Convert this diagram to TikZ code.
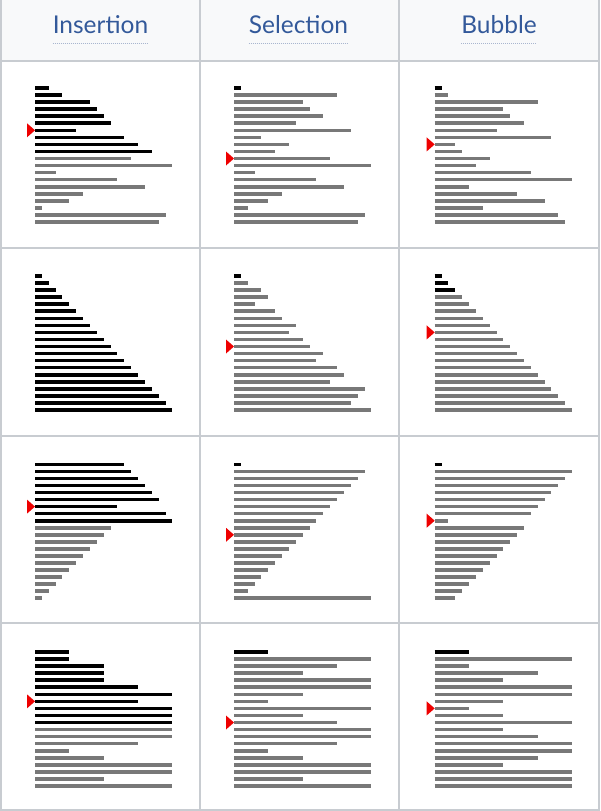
\documentclass[tikz,border=0pt]{standalone}
\usepackage{fontspec}
\setmainfont{Lato}
\definecolor{gridc}{HTML}{C8CCD1}
\definecolor{headbg}{HTML}{F8F9FA}
\definecolor{headtxt}{HTML}{33599A}
\definecolor{ulc}{HTML}{A9B6CF}
\definecolor{barblack}{HTML}{000000}
\definecolor{bargray}{HTML}{787878}
\definecolor{markred}{HTML}{EE0000}
\tikzset{
  sortbar/.style={line width=3.6pt, line cap=butt},
  gridline/.style={draw=gridc, line width=2pt},
  headtext/.style={font=\fontsize{24.5}{28}\selectfont, text=headtxt, inner sep=0pt, anchor=base},
  uline/.style={draw=ulc, line width=1pt, dash pattern=on 1pt off 1pt},
}
\newcommand\sortcell[5]{%
  \foreach \v [count=\i] in {#5} {%
    \pgfmathsetmacro\bary{#2+(\i-1)*7.05}%
    \pgfmathsetmacro\barlen{\v*6.87}%
    \ifnum\i>#3\relax \def\barcol{bargray}\else \def\barcol{barblack}\fi
    \draw[sortbar, draw=\barcol] (#1,\bary) -- ++(\barlen,0);
  }%
  \ifnum#4>0\relax
    \pgfmathsetmacro\marky{#2+(#4-1)*7.05}%
    \fill[markred] (#1,\marky) -- ++(-8,-7) -- ++(0,14) -- cycle;
  \fi
}
\begin{document}
\begin{tikzpicture}[x=1pt,y=-1pt]
\useasboundingbox (0,0) rectangle (600,811);
\fill[white] (0,0) rectangle (600,811);
\fill[headbg] (1,0) rectangle (599,61);
% header texts
\node[headtext] (h1) at (100.5,33) {Insertion};
\node[headtext] (h2) at (298.5,33) {Selection};
\node[headtext] (h3) at (499,33) {Bubble};
\foreach \h in {h1,h2,h3} {
  \draw[uline] ([yshift=-10pt]\h.base west) -- ([yshift=-10pt]\h.base east);
}
% grid
\draw[gridline] (1,0) -- (1,810);
\draw[gridline] (199.5,0) -- (199.5,810);
\draw[gridline] (398.5,0) -- (398.5,810);
\draw[gridline] (599,0) -- (599,810);
\foreach \yl in {61,248,435.5,623,810} {
  \draw[gridline] (0,\yl) -- (600,\yl);
}
% row 1: random
\sortcell{35}{88}{10}{7}{2,4,8,9,10,11,6,13,15,17,14,20,3,12,16,7,5,1,19,18}
\sortcell{234}{88}{1}{11}{1,15,10,11,13,9,17,4,8,6,14,20,3,12,16,7,5,2,19,18}
\sortcell{434.7}{88}{1}{9}{1,2,15,10,11,13,9,17,3,4,8,6,14,20,5,12,16,7,18,19}
% row 2: nearly sorted
\sortcell{35}{276}{20}{0}{1,2,3,4,5,6,7,8,9,10,11,12,13,14,15,16,17,18,19,20}
\sortcell{234}{276}{1}{11}{1,2,4,5,3,6,7,9,8,10,11,13,12,15,16,14,19,18,17,20}
\sortcell{434.7}{276}{3}{9}{1,2,3,4,5,6,7,8,9,10,11,12,13,14,15,16,17,18,19,20}
% row 3: reversed
\sortcell{35}{464.3}{9}{7}{13,14,15,16,17,18,12,19,20,11,10,9,8,7,6,5,4,3,2,1}
\sortcell{234}{464.3}{1}{11}{1,19,18,17,16,15,14,13,12,11,10,9,8,7,6,5,4,3,2,20}
\sortcell{434.7}{464.3}{1}{9}{1,20,19,18,17,16,15,14,2,13,12,11,10,9,8,7,6,5,4,3}
% row 4: few unique
\sortcell{35}{652}{11}{8}{5,5,10,10,10,15,20,15,20,20,20,20,20,15,5,10,20,20,10,20}
\sortcell{234}{652}{1}{11}{5,20,15,10,20,20,10,5,20,10,15,20,20,15,5,10,20,20,10,20}
\sortcell{434.7}{652}{1}{9}{5,20,5,15,10,20,20,10,5,10,20,10,15,20,20,15,10,20,20,20}
\end{tikzpicture}
\end{document}
